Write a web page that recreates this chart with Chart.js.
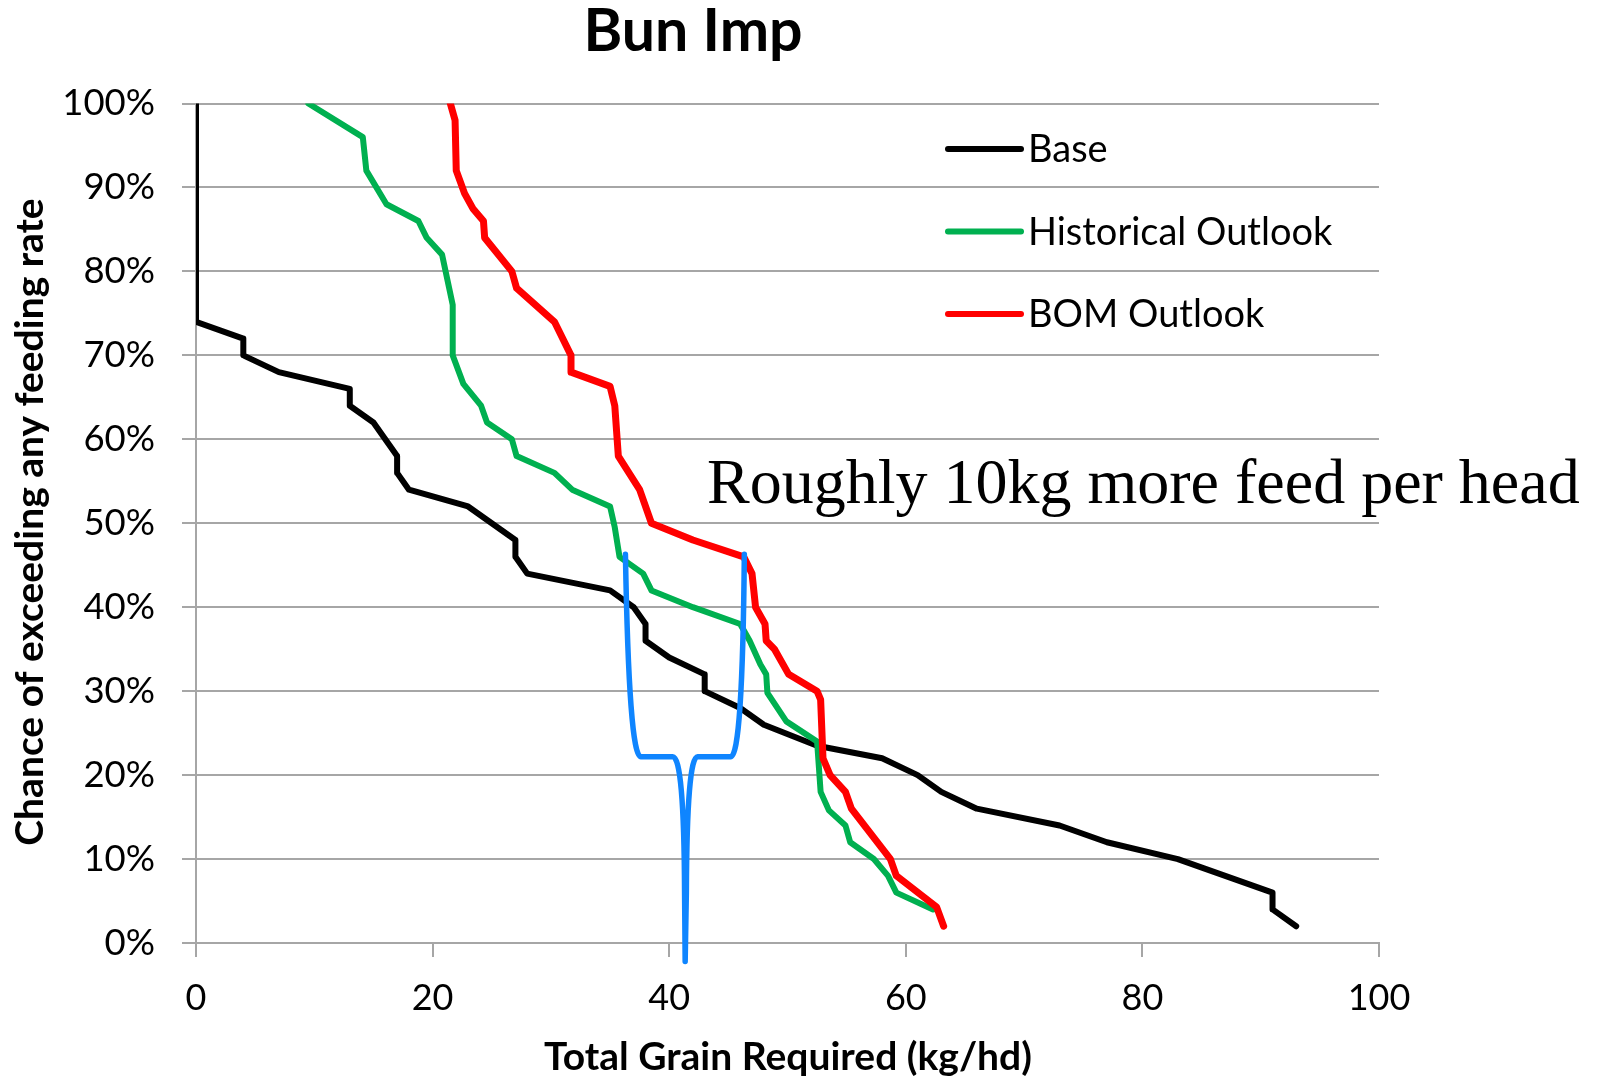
<!DOCTYPE html>
<html>
<head>
<meta charset="utf-8">
<title>Bun Imp</title>
<script src="https://cdn.jsdelivr.net/npm/chart.js@4.4.1/dist/chart.umd.min.js"></script>
<style>
    html, body { margin: 0; padding: 0; background: #fff; }
</style>
</head>
<body>
<canvas id="graph" width="1599" height="1079"></canvas>
<script>
// Series: total grain required (kg/hd) against chance of exceeding (%)
const baseX = [0, 0, 4, 4, 7, 13, 13, 15, 17, 17, 18, 23, 25, 27, 27, 28, 35, 37, 38, 38, 40, 43, 43, 46, 48, 52.5, 58, 61, 63, 66, 73, 77, 83, 91, 91, 93];
const baseY = [100, 74, 72, 70, 68, 66, 64, 62, 58, 56, 54, 52, 50, 48, 46, 44, 42, 40, 38, 36, 34, 32, 30, 28, 26, 23.5, 22, 20, 18, 16, 14, 12, 10, 6, 4, 2];

const histX = [9.5, 14.1, 14.4, 16.1, 18.8, 19.5, 20.8, 21.4, 21.7, 21.7, 22.6, 24.1, 24.6, 26.7, 27.1, 30.3, 31.8, 35.0, 35.4, 35.8, 37.8, 38.5, 42.0, 46.0, 46.8, 47.7, 48.2, 48.3, 49.9, 52.5, 52.8, 53.5, 54.9, 55.3, 57.3, 58.5, 59.2, 62.3];
const histY = [100, 96, 92, 88, 86, 84, 82, 78, 76, 70, 66.6, 64, 62, 60, 58, 56, 54, 52, 49.5, 46, 44, 42, 40, 38, 36, 33.2, 32, 29.8, 26.4, 24, 18, 15.8, 14, 12, 10, 8, 6, 4];

const bomX = [21.5, 21.9, 22.0, 22.7, 23.4, 24.3, 24.4, 26.7, 27.1, 30.3, 31.7, 31.7, 35.0, 35.4, 35.7, 37.5, 38.5, 42.0, 46.3, 47.0, 47.3, 48.1, 48.2, 48.9, 50.1, 52.5, 52.8, 53.0, 53.6, 54.9, 55.4, 58.7, 59.2, 62.6, 63.2];
const bomY = [100, 98, 92, 89.3, 87.5, 86, 84, 80, 78, 74, 70, 68, 66.3, 64, 58, 54, 50, 48, 46, 44, 40, 38, 36, 35, 32, 30, 29, 22, 20, 18, 16, 10, 8, 4.3, 2];

const seriesNames = ['Base', 'Historical Outlook', 'BOM Outlook'];
const seriesColors = ['#000000', '#00B050', '#FF0000'];

const xTicks = [0, 20, 40, 60, 80, 100];
const yTicks = [0, 10, 20, 30, 40, 50, 60, 70, 80, 90, 100];

// bracket marking the gap between the curves (kg/hd, %)
const bracePath = [
    ['M', 36.3, 46.3],
    ['Q', 36.6, 22.2, 37.6, 22.2],
    ['L', 40.3, 22.2],
    ['Q', 41.25, 22.2, 41.3, 6],
    ['L', 41.35, -2.2],
    ['L', 41.45, 6],
    ['Q', 41.5, 22.2, 42.4, 22.2],
    ['L', 45.2, 22.2],
    ['Q', 46.2, 22.2, 46.35, 46.3]
];
const noteText = 'Roughly 10kg more feed per head';

const SANS = 'Lato, "Open Sans", sans-serif';
const GRID = '#A6A6A6';

function toPoints(xs, ys) {
    return xs.map((x, i) => ({ x: x, y: ys[i] }));
}

// titles, legend, note and bracket
const decorations = {
    id: 'decorations',
    afterDraw(chart) {
        const ctx = chart.ctx;
        const xs = chart.scales.x;
        const ys = chart.scales.y;
        ctx.save();
        ctx.fillStyle = '#000';

        // chart title
        ctx.font = 'bold 59px ' + SANS;
        ctx.textAlign = 'center';
        ctx.textBaseline = 'alphabetic';
        ctx.fillText('Bun Imp', 693, 51);

        // axis titles
        ctx.font = 'bold 39px ' + SANS;
        ctx.fillText('Total Grain Required (kg/hd)', 788, 1070);
        ctx.save();
        ctx.translate(43, 522);
        ctx.rotate(-Math.PI / 2);
        ctx.fillText('Chance of exceeding any feeding rate', 0, 0);
        ctx.restore();

        // legend
        ctx.font = '38px ' + SANS;
        ctx.textAlign = 'left';
        ctx.lineCap = 'round';
        ctx.lineWidth = 6;
        seriesNames.forEach((name, i) => {
            const y = 149 + i * 82.5;
            ctx.strokeStyle = seriesColors[i];
            ctx.beginPath();
            ctx.moveTo(948, y);
            ctx.lineTo(1021, y);
            ctx.stroke();
            ctx.fillStyle = '#000';
            ctx.fillText(name, 1028, y + 13);
        });

        // note
        ctx.font = '64px "Liberation Serif", "Times New Roman", serif';
        ctx.fillText(noteText, xs.getPixelForValue(43.2), ys.getPixelForValue(52.4));

        // bracket
        const px = v => xs.getPixelForValue(v);
        const py = v => ys.getPixelForValue(v);
        ctx.strokeStyle = '#0F85FF';
        ctx.lineWidth = 5.5;
        ctx.lineJoin = 'round';
        ctx.beginPath();
        bracePath.forEach(c => {
            if (c[0] === 'M') ctx.moveTo(px(c[1]), py(c[2]));
            if (c[0] === 'L') ctx.lineTo(px(c[1]), py(c[2]));
            if (c[0] === 'Q') ctx.quadraticCurveTo(px(c[1]), py(c[2]), px(c[3]), py(c[4]));
        });
        ctx.stroke();
        ctx.restore();
    }
};

const lineStyle = {
    pointRadius: 0,
    tension: 0,
    clip: 0,
    borderCapStyle: 'round',
    borderJoinStyle: 'round'
};

new Chart(document.getElementById('graph'), {
    type: 'line',
    data: {
        datasets: [
            Object.assign({ label: seriesNames[0], data: toPoints(baseX, baseY), borderColor: seriesColors[0], borderWidth: 6, order: 3 }, lineStyle),
            Object.assign({ label: seriesNames[1], data: toPoints(histX, histY), borderColor: seriesColors[1], borderWidth: 6, order: 2 }, lineStyle),
            Object.assign({ label: seriesNames[2], data: toPoints(bomX, bomY), borderColor: seriesColors[2], borderWidth: 7, order: 1 }, lineStyle)
        ]
    },
    options: {
        responsive: false,
        animation: false,
        layout: { padding: { top: 103.5, right: 220, bottom: 0, left: 0 } },
        plugins: {
            legend: { display: false },
            tooltip: { enabled: false },
            title: { display: false }
        },
        scales: {
            x: {
                type: 'linear',
                min: 0,
                max: 100,
                afterBuildTicks: s => { s.ticks = xTicks.map(v => ({ value: v })); },
                afterFit: s => { s.height = 136; },
                ticks: { color: '#000', font: { family: SANS, size: 36 }, padding: 20, maxRotation: 0 },
                grid: { drawOnChartArea: false, drawTicks: true, tickLength: 14, color: GRID, lineWidth: 2 },
                border: { display: true, color: GRID, width: 2 }
            },
            y: {
                type: 'linear',
                min: 0,
                max: 100,
                afterBuildTicks: s => { s.ticks = yTicks.map(v => ({ value: v })); },
                afterFit: s => { s.width = 196; },
                ticks: { color: '#000', font: { family: SANS, size: 36.5 }, padding: 27, callback: v => v + '%' },
                grid: { color: GRID, lineWidth: 2, tickLength: 14 },
                border: { display: true, color: GRID, width: 2 }
            }
        }
    },
    plugins: [decorations]
});
</script>
</body>
</html>
